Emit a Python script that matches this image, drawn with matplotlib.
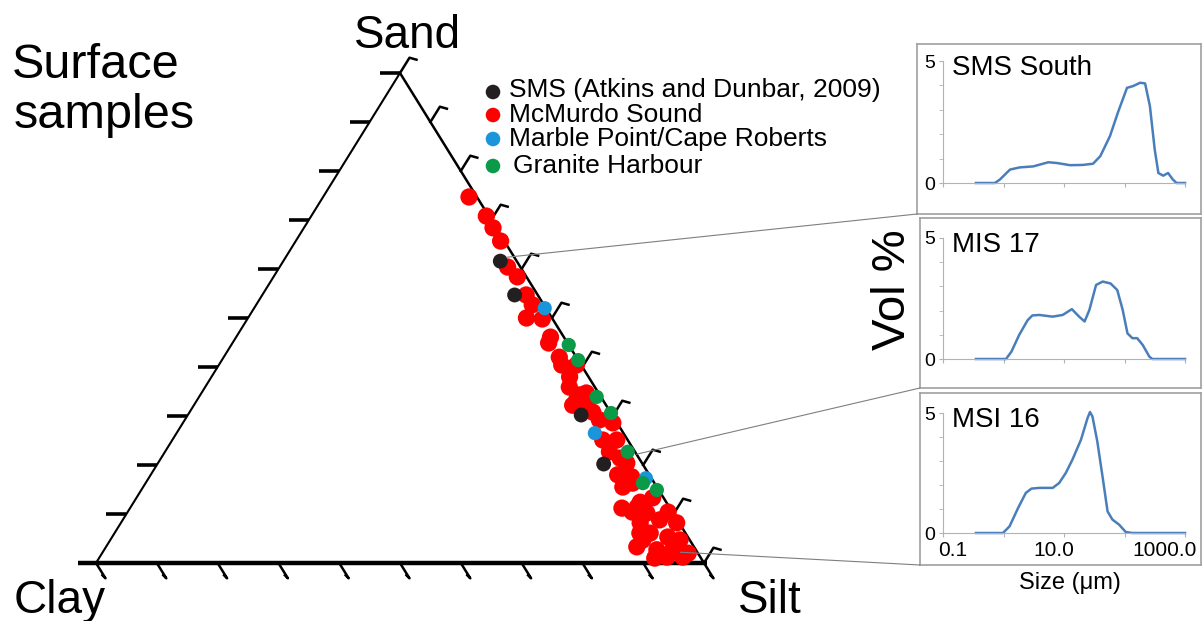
import numpy as np
import matplotlib
matplotlib.use("Agg")
import matplotlib.pyplot as plt
from matplotlib.patches import ConnectionPatch
from matplotlib.ticker import NullLocator
from matplotlib.transforms import offset_copy

plt.rcParams['font.family'] = ['Liberation Sans', 'DejaVu Sans']

# surface samples, percent (silt = remainder)
red_sand = [74.7, 70.8, 68.4, 65.7, 60.4, 58.4, 54.7, 52.7, 50.0, 49.8, 46.1, 44.9, 42.0, 40.4,
            40.4, 38.0, 35.9, 34.7, 33.3, 32.7, 34.3, 32.2, 30.8, 29.2, 28.6, 25.1, 25.1, 22.7,
            21.4, 20.4, 18.0, 17.6, 15.5, 16.3, 13.3, 11.2, 11.4, 10.2, 10.4, 8.2, 8.8, 8.2,
            6.1, 4.7, 5.3, 4.7, 2.7, 2.7, 2.0, 1.0, 1.2, 1.2, 10.4, 12.4, 6.1, 3.3]
red_clay = [1.3, 0.4, 0.5, 0.6, 2.1, 1.5, 1.9, 1.9, 4.2, 1.7, 2.2, 3.1, 2.8, 3.2,
            0.8, 3.1, 4.2, 2.0, 4.3, 3.0, 3.3, 5.5, 2.9, 2.6, 0.7, 4.1, 1.8, 4.2,
            3.1, 2.5, 5.2, 3.1, 5.6, 3.6, 1.8, 7.9, 5.3, 4.3, 0.7, 6.4, 2.9, 0.4,
            5.8, 7.7, 3.3, 1.6, 6.4, 3.8, 1.6, 7.6, 5.5, 2.9, 6.6, 4.3, 7.5, 9.4]
sms_sand = [61.6, 54.7, 30.2, 20.2]
sms_clay = [2.7, 3.8, 5.1, 6.4]
marble_sand = [52.0, 26.5, 17.3]
marble_clay = [0.2, 4.7, 0.9]
granite_sand = [44.5, 41.4, 33.9, 30.6, 22.7, 16.3, 14.9]
granite_clay = [0.0, 0.0, 0.7, 0.0, 1.2, 1.9, 0.3]

legend_labels = ["SMS (Atkins and Dunbar, 2009)", "McMurdo Sound",
                 "Marble Point/Cape Roberts", "Granite Harbour"]
legend_colors = ["#231f20", "#ff0000", "#1b95d9", "#0a9a48"]

# grain size distributions: size (um) vs vol %
sms_size = [0.35, 0.72, 0.87, 1.28, 1.86, 3.1, 5.5, 7.6, 12.6, 20.4, 30.2, 39.8, 57.5, 77.6,
            110, 138, 182, 219, 263, 316, 363, 437, 525, 631, 724, 1000]
sms_vol = [0, 0, 0.14, 0.55, 0.64, 0.68, 0.85, 0.82, 0.73, 0.74, 0.79, 1.10, 1.92, 2.88,
           3.90, 3.97, 4.11, 4.08, 3.15, 1.37, 0.41, 0.30, 0.41, 0.14, 0, 0]
mis17_size = [0.35, 1.1, 1.35, 1.82, 2.5, 3.0, 3.9, 6.5, 9.5, 13.5, 17.8, 21.9, 26.3, 33.9,
              43.7, 58.9, 75.9, 93.3, 112, 135, 162, 200, 257, 288, 1000]
mis17_vol = [0, 0, 0.3, 1.0, 1.6, 1.8, 1.82, 1.75, 1.82, 2.06, 1.75, 1.55, 2.03, 3.06,
             3.2, 3.12, 2.85, 2.03, 1.06, 0.86, 0.86, 0.58, 0.1, 0, 0]
msi16_size = [0.35, 0.98, 1.26, 1.74, 2.34, 2.9, 3.9, 6.5, 8.3, 10.7, 13.8, 19.1, 24.5, 26.9,
              29.5, 35.5, 43.7, 52.5, 63.1, 81.3, 105, 135, 1000]
msi16_vol = [0, 0, 0.28, 1.04, 1.67, 1.85, 1.88, 1.88, 2.08, 2.5, 3.06, 3.89, 4.79, 5.04,
             4.86, 3.82, 2.29, 0.9, 0.56, 0.35, 0.04, 0, 0]
panel_titles = ["SMS South", "MIS 17", "MSI 16"]

# samples the panels point at (sand, clay)
link_sand = [62.4, 22.2, 2.2]
link_clay = [1.2, 0.0, 2.8]

W, H = 1203, 621


def fx(px):
    return px / W


def fy(py):
    return (H - py) / H


def rect(l, t, r, b):
    return [fx(l), fy(b), (r - l) / W, (b - t) / H]


def tern_xy(sand, clay):
    sand = np.asarray(sand, dtype=float) / 100.0
    clay = np.asarray(clay, dtype=float) / 100.0
    silt = 1.0 - sand - clay
    return silt + 0.5 * sand, sand


fig = plt.figure(figsize=(W / 100, H / 100), dpi=100)
ax = fig.add_axes([0, 0, 1, 1])
ax.set_xlim(-96 / 608, 1107 / 608)
ax.set_ylim(-58 / 490, 563 / 490)
ax.axis('off')

# triangle
ax.plot([0, 0.5], [0, 1], color='black', lw=1.5, solid_capstyle='butt')
ax.plot([0.5, 1], [1, 0], color='black', lw=1.8, solid_capstyle='butt')
ax.plot([-18 / 608, 1 + 3 / 608], [0, 0], color='black', lw=3.2, solid_capstyle='butt')

ticks = np.linspace(0, 1, 11)
bdx, bdy = 9.5 / 608, 15.3 / 490
for s in ticks[1:]:
    ax.plot([0.5 * s, 0.5 * s - 20 / 608], [s, s], color='black', lw=2.6, solid_capstyle='butt')
for t in ticks:
    ax.plot([t, t + bdx, t + bdx - 3 / 608], [0, -bdy, -bdy + 3 / 490], color='black', lw=1.8)
for s in ticks:
    x0, y0 = 1 - 0.5 * s, s
    ax.plot([x0, x0 + bdx, x0 + bdx + 7 / 608], [y0, y0 + bdy, y0 + bdy - 2 / 490],
            color='black', lw=1.8)

# samples
x, y = tern_xy(red_sand, red_clay)
ax.scatter(x, y, s=155, color=legend_colors[1], edgecolors='none', zorder=3)
x, y = tern_xy(sms_sand, sms_clay)
ax.scatter(x, y, s=115, color=legend_colors[0], edgecolors='none', zorder=4)
x, y = tern_xy(marble_sand, marble_clay)
ax.scatter(x, y, s=105, color=legend_colors[2], edgecolors='none', zorder=4)
x, y = tern_xy(granite_sand, granite_clay)
ax.scatter(x, y, s=105, color=legend_colors[3], edgecolors='none', zorder=4)

# legend
leg_marker_y = [92, 115, 139, 166]
leg_text_y = [97, 122, 146, 173]
leg_text_x = [509, 509, 509, 513]
for lab, col, my, ty, tx in zip(legend_labels, legend_colors, leg_marker_y, leg_text_y, leg_text_x):
    ax.scatter([fx(493)], [fy(my)], s=110, color=col, edgecolors='none', transform=fig.transFigure)
    fig.text(fx(tx), fy(ty), lab, fontsize=19, va='baseline', ha='left')

# labels
fig.text(fx(12), fy(78), "Surface", fontsize=35, va='baseline')
fig.text(fx(14), fy(128), "samples", fontsize=35, va='baseline')
fig.text(fx(408), fy(48), "Sand", fontsize=33, va='baseline', ha='center')
fig.text(fx(14), fy(613), "Clay", fontsize=33, va='baseline')
fig.text(fx(738), fy(613), "Silt", fontsize=33, va='baseline')
fig.text(fx(893), fy(290), "Vol %", fontsize=34, rotation=90, va='center', ha='center')
fig.text(fx(1070), fy(583), "Size (\u03bcm)", fontsize=17, va='center', ha='center')

# grain size panels
boxes = [(917, 44, 1201, 214), (920, 218, 1201, 388), (920, 393, 1201, 565)]
inners = [(943, 61, 1185, 183), (943, 238, 1185, 359), (943, 413, 1185, 533)]
curves = [(sms_size, sms_vol), (mis17_size, mis17_vol), (msi16_size, msi16_vol)]
gray = '#b3b3b3'

for i in range(3):
    bax = fig.add_axes(rect(*boxes[i]))
    bax.set_xticks([])
    bax.set_yticks([])
    bax.patch.set_alpha(0)
    for sp in bax.spines.values():
        sp.set_color('#a0a0a0')
        sp.set_linewidth(1.2)

    pax = fig.add_axes(rect(*inners[i]))
    pax.patch.set_alpha(0)
    pax.plot(curves[i][0], curves[i][1], color='#4a7ebb', lw=1.8, clip_on=False,
             solid_joinstyle='round')
    pax.set_xscale('log')
    pax.set_xlim(0.1, 1000)
    pax.set_ylim(0, 5)
    pax.spines['top'].set_visible(False)
    pax.spines['right'].set_visible(False)
    pax.spines['left'].set_color(gray)
    pax.spines['bottom'].set_color(gray)
    pax.set_xticks([0.1, 1, 10, 100, 1000])
    pax.set_xticklabels([])
    pax.xaxis.set_minor_locator(NullLocator())
    pax.set_yticks([0, 5])
    pax.set_yticks([1, 2, 3, 4], minor=True)
    pax.tick_params(axis='both', which='both', direction='out', length=3, color=gray,
                    labelsize=14, pad=3)
    pax.text(0.037, 0.885, panel_titles[i], fontsize=20, transform=pax.transAxes,
             va='baseline', ha='left')

    con = ConnectionPatch(xyA=tuple(np.ravel(tern_xy(link_sand[i], link_clay[i]))), coordsA=ax.transData,
                          xyB=(0, 0), coordsB=bax.transAxes, color='#7f7f7f', lw=0.8)
    fig.add_artist(con)

    if i == 2:
        trans = pax.get_xaxis_transform()
        for val, lab, dx in [(0.1, "0.1", 10), (10, "10.0", -10), (1000, "1000.0", -20)]:
            pax.text(val, -0.15, lab, fontsize=15, ha='center', va='center',
                     transform=offset_copy(trans, fig=fig, x=dx, y=0, units='dots'))

fig.savefig("out.png", dpi=100)
